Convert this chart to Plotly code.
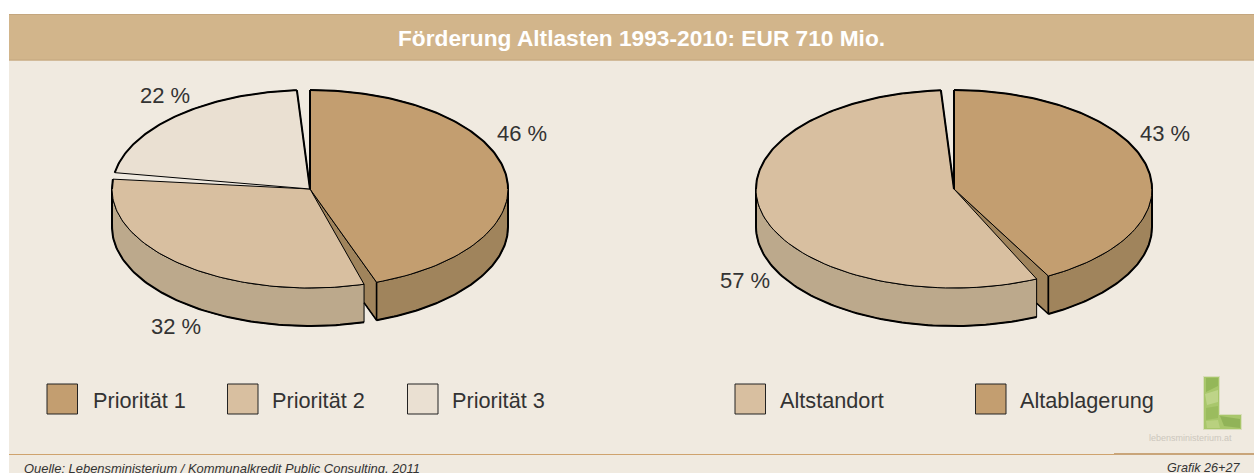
import numpy as np
import plotly.graph_objects as go

# ---- data ----
TITLE = "Förderung Altlasten 1993-2010: EUR 710 Mio."
left_labels = ["Priorität 1", "Priorität 2", "Priorität 3"]
left_values = [46, 32, 22]
right_labels = ["Altablagerung", "Altstandort"]
right_values = [43, 57]
SOURCE = "Quelle: Lebensministerium / Kommunalkredit Public Consulting, 2011"
GRAFIK = "Grafik 26+27"

# ---- styles ----
W, H = 1254, 473
BG = "#F0EAE0"
BAND = "#D2B58B"
C1, C2, C3 = "#C39E70", "#D8BFA0", "#EAE0D2"
S1, S2 = "#A0845C", "#BCA98C"
LINE = "#000000"
TXT = "#333333"
RX, RY, DEPTH = 198, 99, 38
GAP = 3.8
FONT = "Liberation Sans"

fig = go.Figure()


def arc(cx, cy, t0, t1, n=90, dy=0):
    t = np.radians(np.linspace(t0, t1, n))
    return cx + RX * np.sin(t), cy - RY * np.cos(t) + dy


def poly(x, y, fill, lw=1.0, color=LINE):
    fig.add_trace(go.Scatter(x=list(x) + [x[0]], y=list(y) + [y[0]], mode="lines", fill="toself",
                             fillcolor=fill, line=dict(color=color, width=lw), hoverinfo="skip",
                             showlegend=False))


def stroke(x, y, lw=2.0):
    fig.add_trace(go.Scatter(x=list(x), y=list(y), mode="lines", line=dict(color=LINE, width=lw),
                             hoverinfo="skip", showlegend=False))


def pie(cx, cy, values, tops, sides):
    scale = (360 - GAP * len(values)) / sum(values)
    t = 0.0
    spans = []
    for v in values:
        spans.append((t, t + v * scale))
        t += v * scale + GAP
    for i, (t0, t1) in enumerate(spans):
        ax, ay = arc(cx, cy, t0, t1)
        if i == 0:  # inner radial wall at the slice end
            xe, ye = ax[-1], ay[-1]
            poly([cx, xe, xe, cx], [cy, ye, ye + DEPTH, cy + DEPTH], sides[i])
        v0, v1 = max(t0, 90), min(t1, 270)
        if v1 > v0:
            bx, by = arc(cx, cy, v0, v1)
            sx = np.concatenate([bx, bx[::-1]])
            sy = np.concatenate([by, by[::-1] + DEPTH])
            poly(sx, sy, sides[i])
            stroke(*arc(cx, cy, v0, v1, dy=DEPTH))
            if t0 <= 90:
                stroke([bx[0], bx[0]], [by[0], by[0] + DEPTH])
            if t1 <= 270:
                stroke([bx[-1], bx[-1]], [by[-1], by[-1] + DEPTH], 1.6)
            else:
                stroke([bx[-1], bx[-1]], [by[-1], by[-1] + DEPTH])
        poly([cx, *ax], [cy, *ay], tops[i])
        b0, b1 = (t0, min(t1, 90)) if t0 < 90 else (max(t0, 270), t1)
        if b1 > b0:
            stroke(*arc(cx, cy, b0, b1))
    # bold radial edges on the back gap
    last_end = spans[-1][1]
    xe, ye = arc(cx, cy, last_end, last_end, 1)
    stroke([xe[0], cx, cx], [ye[0], cy, cy - RY], 2.0)
    # visible lower edge of the first slice's inner wall, up to the next slice's side
    xe, ye = arc(cx, cy, spans[0][1], spans[0][1], 1)
    xn, _ = arc(cx, cy, spans[1][0], spans[1][0], 1)
    frac = (xe[0] - xn[0]) / (xe[0] - cx)
    stroke([xe[0], xn[0]], [ye[0] + DEPTH, ye[0] + DEPTH - frac * (ye[0] - cy)], 1.5)


pie(310, 189, left_values, [C1, C2, C3], [S1, S2, S2])
pie(954, 189, right_values, [C1, C2], [S1, S2])

shapes = [
    dict(type="rect", x0=9, x1=W, y0=14, y1=H, fillcolor=BG, line_width=0, layer="below"),
    dict(type="rect", x0=9, x1=W, y0=14, y1=60.5, fillcolor=BAND, line_width=0, layer="below"),
    dict(type="line", x0=9, x1=W, y0=14.5, y1=14.5, line=dict(color="#C4A67E", width=1), layer="below"),
    dict(type="line", x0=9, x1=W, y0=60, y1=60, line=dict(color="#C4A67E", width=1), layer="below"),
    dict(type="line", x0=9, x1=1114, y0=454.5, y1=454.5, line=dict(color="#CFA36E", width=1), layer="below"),
    dict(type="line", x0=1114, x1=W, y0=454, y1=454, line=dict(color="#C9A57A", width=2), layer="below"),
]


def swatch(x, y, color):
    shapes.append(dict(type="rect", x0=x, x1=x + 30.5, y0=y, y1=y + 30, fillcolor=color,
                       line=dict(color="#222", width=1)))


for x, c in zip([47, 227.5, 407.5], [C1, C2, C3]):
    swatch(x, 384, c)
swatch(735, 384, C2)
swatch(975.5, 384, C1)

# soft green logo: halo, body and a few mottled patches
L_PATH = "M1204,377 L1219,377 L1219,415 L1241,415 L1241,429 L1204,429 Z"
shapes.append(dict(type="path", path=L_PATH, fillcolor="#A9C76C",
                   line=dict(color="rgba(166,197,102,0.3)", width=2)))
for p, col in [
    ("M1206,378 L1218,378 L1218,386 L1206,392 Z", "rgba(118,160,60,0.4)"),
    ("M1205,394 L1218,390 L1218,402 L1207,405 Z", "rgba(214,228,170,0.45)"),
    ("M1206,408 L1218,406 L1218,418 L1206,420 Z", "rgba(130,170,70,0.35)"),
    ("M1220,416 L1240,419 L1240,428 L1224,426 Z", "rgba(110,150,60,0.4)"),
    ("M1206,421 L1218,420 L1220,428 L1207,428 Z", "rgba(205,222,150,0.45)"),
]:
    shapes.append(dict(type="path", path=p, fillcolor=col, line_width=0))

ann = []


def text(x, y, s, size, color=TXT, anchor="left", **kw):
    ann.append(dict(x=x, y=y, text=s, showarrow=False, xanchor=anchor, yanchor="middle",
                    font=dict(family=FONT, size=size, color=color), **kw))


text(641.5, 37.5, f"<b>{TITLE}</b>", 22.7, "#FFFFFF", "center")
pct = [(521.5, 133, left_values[0]), (176, 326, left_values[1]), (164.5, 95, left_values[2]),
       (1165, 133, right_values[0]), (745, 280.5, right_values[1])]
for x, y, v in pct:
    text(x, y, f"{v} %", 22, TXT, "center")
for x, s in zip([91, 270, 450], left_labels):
    text(x, 400.5, s, 21.7)
text(778, 400.5, right_labels[1], 21.7)
text(1018, 400.5, right_labels[0], 21.7)
text(22, 468, f"<i>{SOURCE}</i>", 12.95)
text(1242, 468, f"<i>{GRAFIK}</i>", 12.6, TXT, "right")
text(1190, 438, "lebensministerium.at", 9, "#CCC7BD", "center")

fig.update_layout(
    width=W, height=H, margin=dict(l=0, r=0, t=0, b=0), autosize=False,
    paper_bgcolor="#FFFFFF", plot_bgcolor="rgba(0,0,0,0)", showlegend=False,
    xaxis=dict(range=[0, W], visible=False, fixedrange=True),
    yaxis=dict(range=[H, 0], visible=False, fixedrange=True),
    shapes=shapes, annotations=ann,
)
fig.write_html("out.html", config=dict(displayModeBar=False),
               post_script="document.body.style.margin='0';document.body.style.overflow='hidden';")
